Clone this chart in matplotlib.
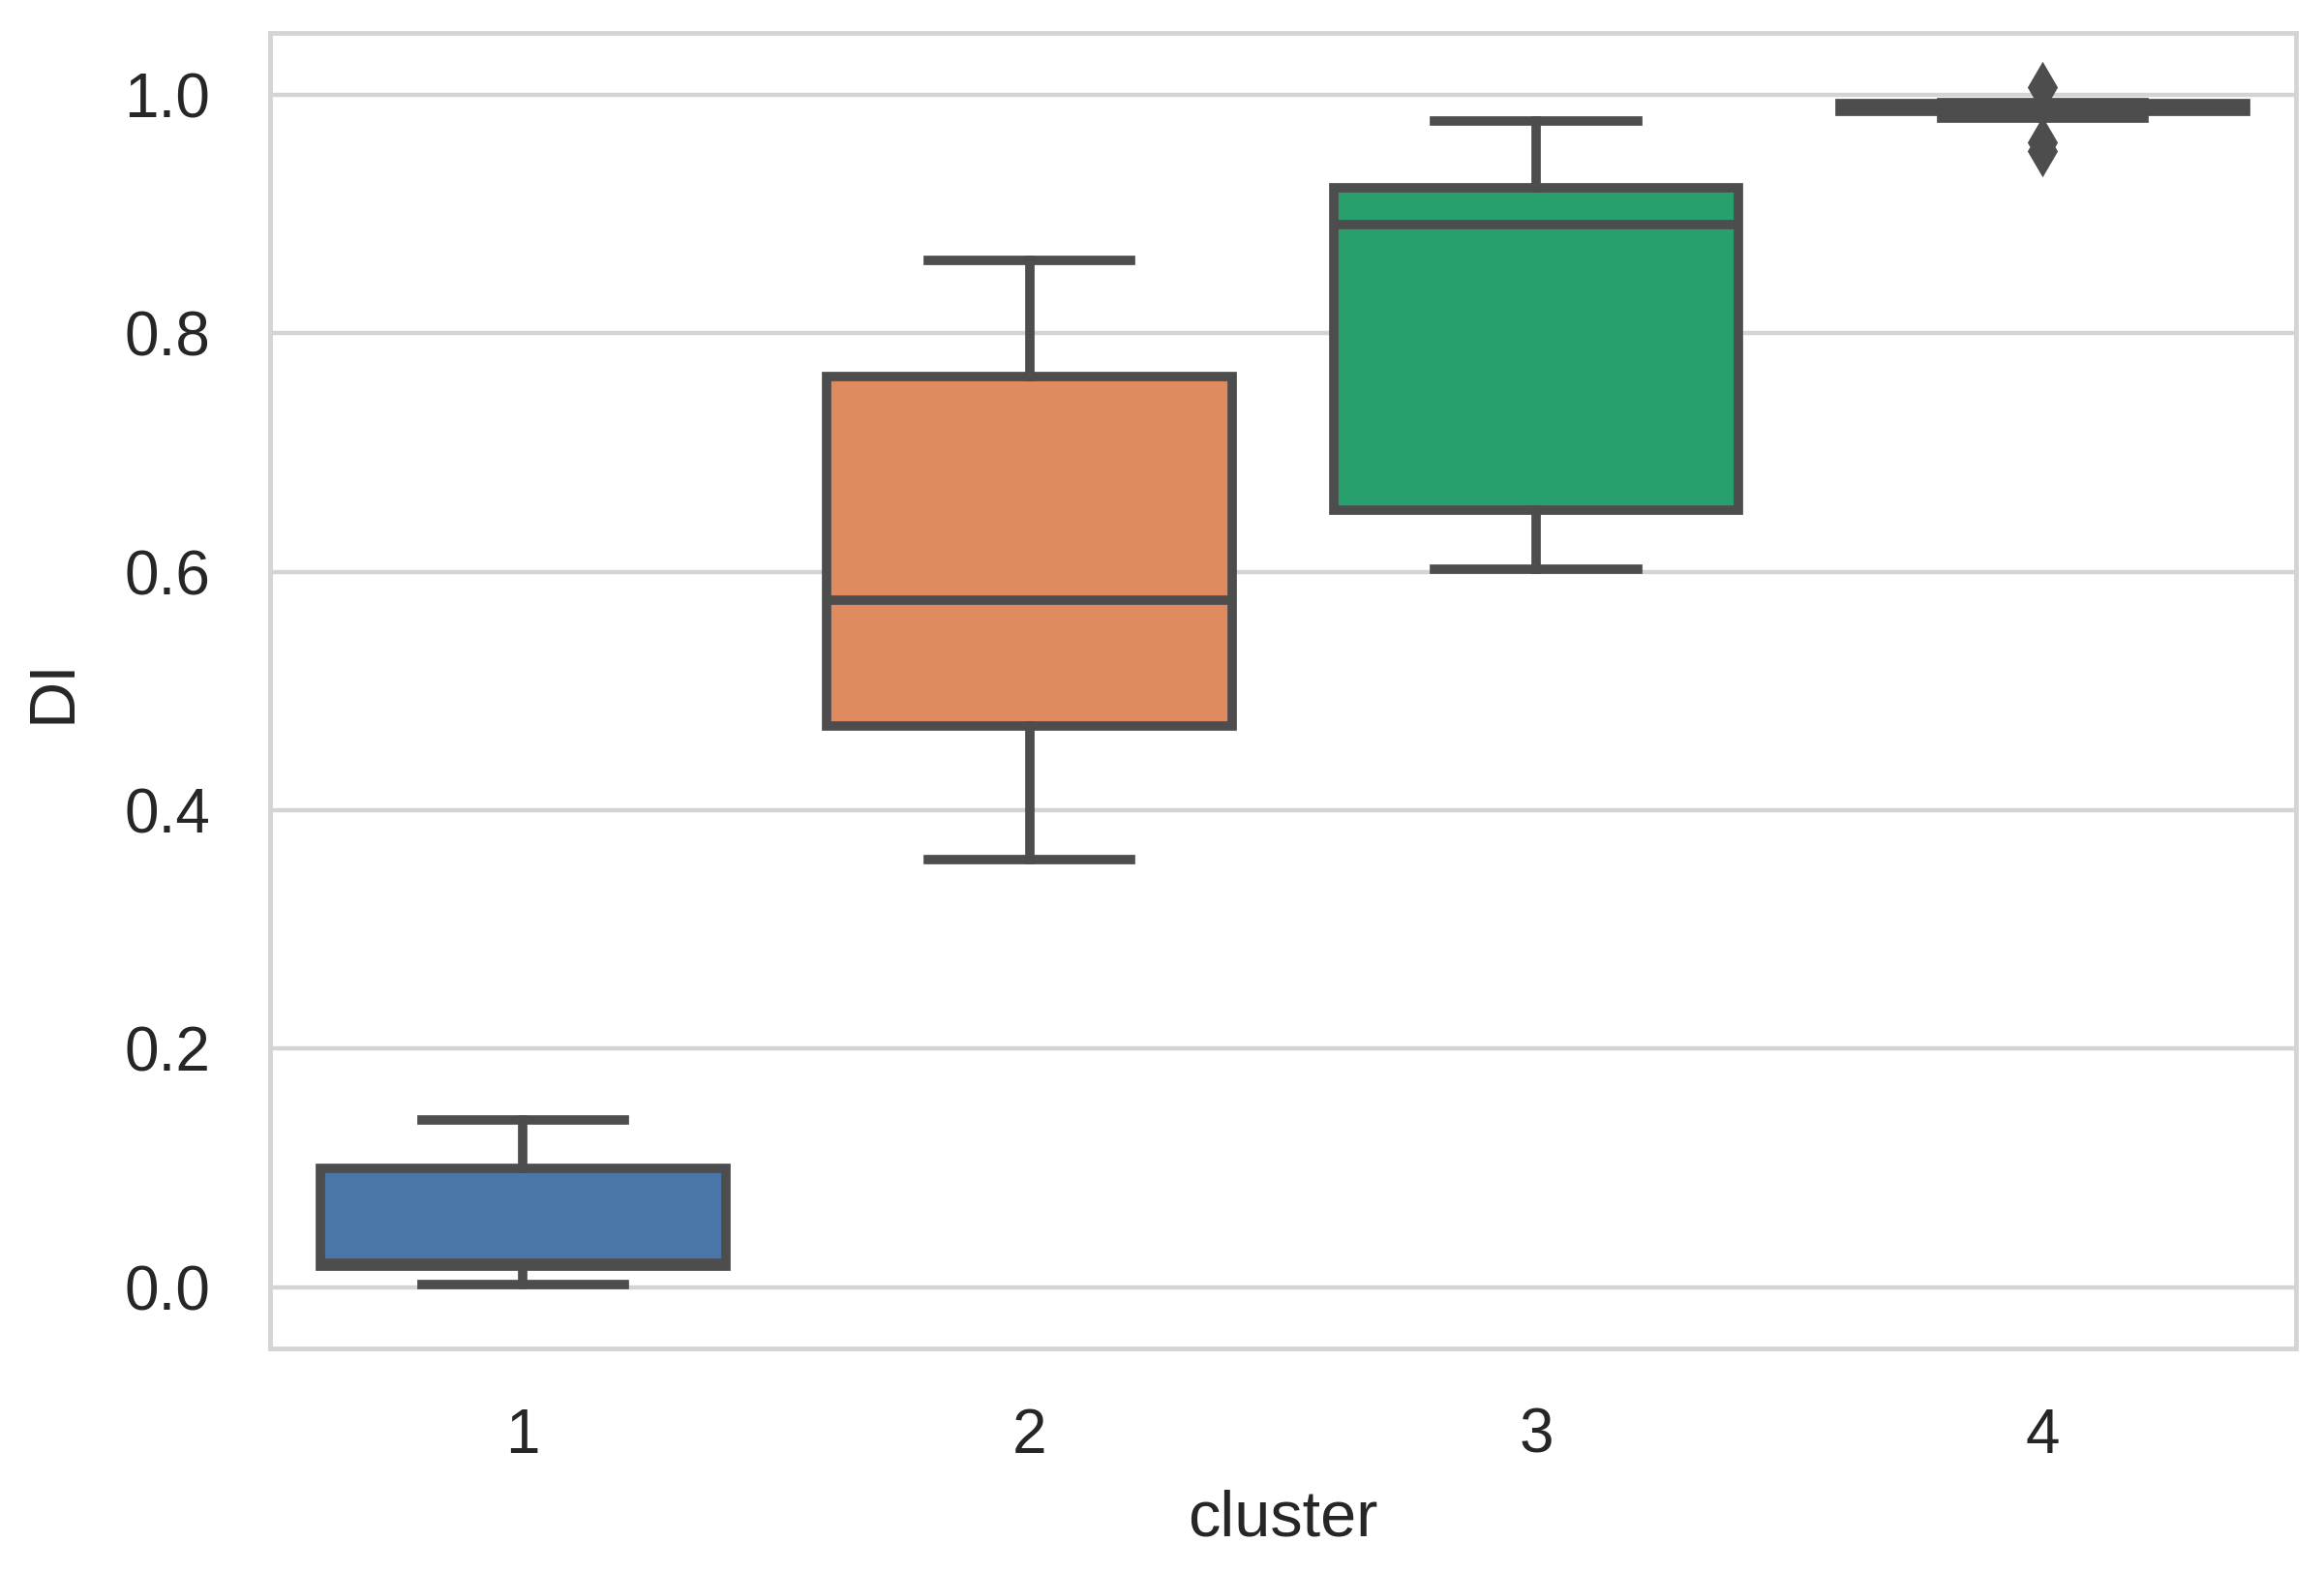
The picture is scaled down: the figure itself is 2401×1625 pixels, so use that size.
import matplotlib
matplotlib.use("Agg")
import matplotlib.pyplot as plt

clusters = ["1", "2", "3", "4"]
whisker_low = [0.002, 0.359, 0.602, 0.981]
q1 = [0.018, 0.471, 0.652, 0.986]
median = [0.020, 0.576, 0.891, 0.990]
q3 = [0.100, 0.764, 0.922, 0.993]
whisker_high = [0.140, 0.861, 0.978, 0.994]
outliers = [[], [], [], [1.007, 0.960, 0.953]]
colors = ["#4a76a8", "#e08a60", "#27a06e", "#4a76a8"]

plt.rcParams["font.family"] = ["Liberation Sans", "DejaVu Sans"]

fig = plt.figure(figsize=(24.01, 16.25), dpi=100)
ax = fig.add_axes([0.116, 0.143, 0.872, 0.836])

stats = []
for i, c in enumerate(clusters):
    stats.append(dict(label=c, whislo=whisker_low[i], q1=q1[i], med=median[i],
                      q3=q3[i], whishi=whisker_high[i], fliers=outliers[i]))

line_col = "#4d4d4d"
lw = 7
bp = ax.bxp(stats, positions=range(len(clusters)), widths=0.8, patch_artist=True,
            showfliers=True,
            boxprops=dict(edgecolor=line_col, linewidth=lw),
            medianprops=dict(color=line_col, linewidth=lw),
            whiskerprops=dict(color=line_col, linewidth=lw),
            capprops=dict(color=line_col, linewidth=lw),
            flierprops=dict(marker="d", markerfacecolor=line_col, markeredgecolor=line_col,
                            markersize=24, markeredgewidth=2),
            zorder=3)
for patch, col in zip(bp["boxes"], colors):
    patch.set_facecolor(col)
for cap in bp["caps"]:
    x = cap.get_xdata()
    mid = (x[0] + x[1]) / 2
    cap.set_xdata([mid - 0.2, mid + 0.2])

ax.set_xlim(-0.5, 3.5)
ax.set_ylim(-0.051, 1.052)
ax.set_yticks([0.0, 0.2, 0.4, 0.6, 0.8, 1.0])
ax.set_yticklabels(["0.0", "0.2", "0.4", "0.6", "0.8", "1.0"])
ax.set_xticks(range(len(clusters)))
ax.set_xticklabels(clusters)

ax.yaxis.grid(True, color="#d4d4d4", linewidth=3.2, zorder=0)
ax.xaxis.grid(False)
ax.set_axisbelow(True)
for s in ax.spines.values():
    s.set_color("#d4d4d4")
    s.set_linewidth(3.5)
ax.tick_params(axis="both", length=0, labelsize=46, colors="#262626", pad=44)
ax.tick_params(axis="y", pad=44)
ax.set_xlabel("cluster", fontsize=48, color="#262626", labelpad=18)
ax.set_ylabel("DI", fontsize=48, color="#262626", labelpad=30)

fig.savefig("out.png", dpi=100, facecolor="white")
